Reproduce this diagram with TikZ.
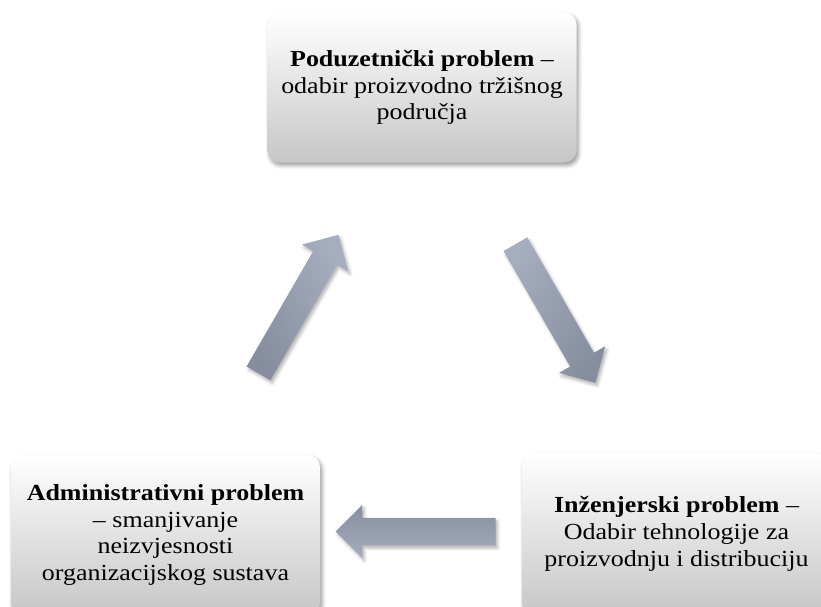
\documentclass[tikz,border=0pt]{standalone}
\usepackage{fontspec}
\setmainfont[FakeStretch=1.13]{Liberation Serif}
\usetikzlibrary{shapes.arrows,shadows.blur}

\definecolor{boxbottom}{HTML}{C6C6C6}
\definecolor{arrowtop}{HTML}{A6ADBF}
\definecolor{arrowbottom}{HTML}{868D9E}

\tikzset{
  problembox/.style={
    rounded corners=12pt, top color=white, bottom color=boxbottom,
    minimum width=309pt, inner sep=0pt, align=center,
    font=\fontsize{23}{26.7}\selectfont,
    blur shadow={shadow xshift=2pt, shadow yshift=-3pt,
                 shadow blur radius=4pt, shadow opacity=40}},
  blockarrow/.style={
    single arrow, single arrow head extend=13pt, inner sep=0pt,
    text height=13.5pt, text depth=13.5pt,
    minimum height=160pt, minimum width=53pt,
    top color=arrowtop, bottom color=arrowbottom, shading angle=#1,
    blur shadow={shadow xshift=2pt, shadow yshift=-3pt,
                 shadow blur radius=3pt, shadow opacity=30}},
}

\begin{document}
\begin{tikzpicture}[x=1pt,y=-1pt]
  \useasboundingbox (0,0) rectangle (821,607);
  \clip (0,0) rectangle (821,607);

  % the three problem areas
  \node[problembox, minimum height=150pt] (pod) at (422,87.5)
    {\textbf{Poduzetnički problem} –\\odabir proizvodno tržišnog\\područja};
  \node[problembox, minimum height=162pt] (inz) at (676.5,534)
    {\textbf{Inženjerski problem} –\\Odabir tehnologije za\\proizvodnju i distribuciju};
  \node[problembox, minimum height=160pt] (adm) at (165.5,535)
    {\textbf{Administrativni problem}\\– smanjivanje\\neizvjesnosti\\organizacijskog sustava};

  % cycle arrows between them
  \node[blockarrow=60, rotate=-60] (a1) at (552,307.5) {};
  \node[blockarrow=180, rotate=180] (a2) at (422.5,531.5) {};
  \node[blockarrow=-60, rotate=60] (a3) at (295,310) {};
\end{tikzpicture}
\end{document}
